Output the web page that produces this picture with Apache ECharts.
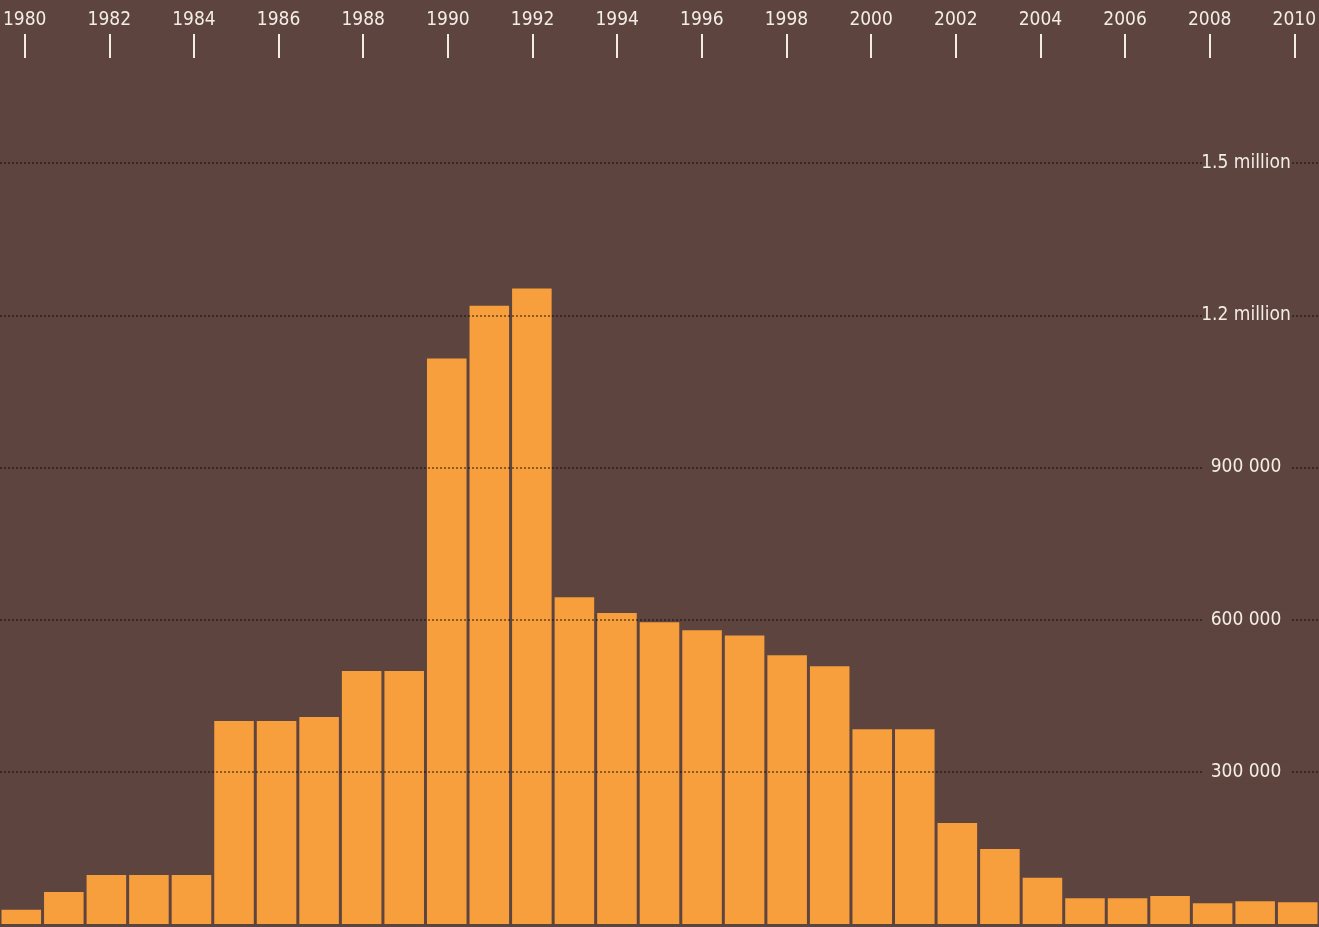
<!DOCTYPE html>
<html>
<head>
<meta charset="utf-8">
<script src="https://cdn.jsdelivr.net/npm/echarts@6/dist/echarts.min.js"></script>
<style>
html,body{margin:0;padding:0;background:#5d443e;}
#c{width:1319px;height:927px;}
</style>
</head>
<body>
<div id="c"></div>
<script>
const years = ['1980','1981','1982','1983','1984','1985','1986','1987','1988','1989','1990','1991','1992','1993','1994','1995','1996','1997','1998','1999','2000','2001','2002','2003','2004','2005','2006','2007','2008','2009','2010'];
const values = [28000,63000,96500,96500,96500,400000,400000,408000,499000,499000,1115000,1219000,1253000,644000,613000,595000,579000,569000,530000,508000,384000,384000,199000,148000,91000,51000,51000,55000,41000,45000,43000];
const yTickLabels = {300000:'300 000',600000:'600 000',900000:'900 000',1200000:'1.2 million',1500000:'1.5 million'};

const FONT = '"Liberation Sans Narrow","DejaVu Sans Condensed","Roboto",sans-serif';
const chart = echarts.init(document.getElementById('c'), null, {renderer:'canvas'});
const yBase = {
  type:'value', min:0, max:1800000, interval:300000, position:'right', gridIndex:0,
  axisLine:{show:false}, axisTick:{show:false}
};
chart.setOption({
  backgroundColor:'#5d443e',
  animation:false,
  grid:[
    {left:0,right:0,top:11,bottom:3,containLabel:false},
    {left:0,right:0,top:57,height:1,containLabel:false}
  ],
  xAxis:[
    {
      type:'category', data:years, gridIndex:0, boundaryGap:true,
      axisLine:{show:false}, axisTick:{show:false}, axisLabel:{show:false}
    },
    {
      type:'category', data:years, gridIndex:1, position:'top',
      boundaryGap:true,
      axisLine:{show:false},
      axisTick:{show:true, alignWithLabel:true, interval:1, length:24, lineStyle:{color:'#f3ede6', width:2}},
      axisLabel:{interval:1, color:'#f3ede6', fontFamily:FONT, fontSize:19, margin:27}
    }
  ],
  yAxis:[
    Object.assign({}, yBase, {
      z:3,
      axisLabel:{show:false},
      splitLine:{show:true, showMinLine:false, showMaxLine:false, lineStyle:{color:'rgba(15,8,5,0.6)', width:1.5, type:[2,2]}}
    }),
    Object.assign({}, yBase, {
      z:4,
      splitLine:{show:false},
      axisLabel:{
        inside:true, showMinLabel:false, showMaxLabel:false,
        color:'#f3ede6', fontFamily:FONT, fontSize:19, margin:73,
        align:'center', verticalAlign:'middle',
        width:88, backgroundColor:'#5d443e', padding:[2,0],
        formatter:function(v){ return yTickLabels[v] || ''; }
      }
    }),
    {
      type:'value', gridIndex:1, min:0, max:1, show:false
    }
  ],
  series:[{
    type:'bar', data:values, xAxisIndex:0, yAxisIndex:0, barCategoryGap:'7%',
    itemStyle:{color:'#f79e3d'}
  }]
});
</script>
</body>
</html>
